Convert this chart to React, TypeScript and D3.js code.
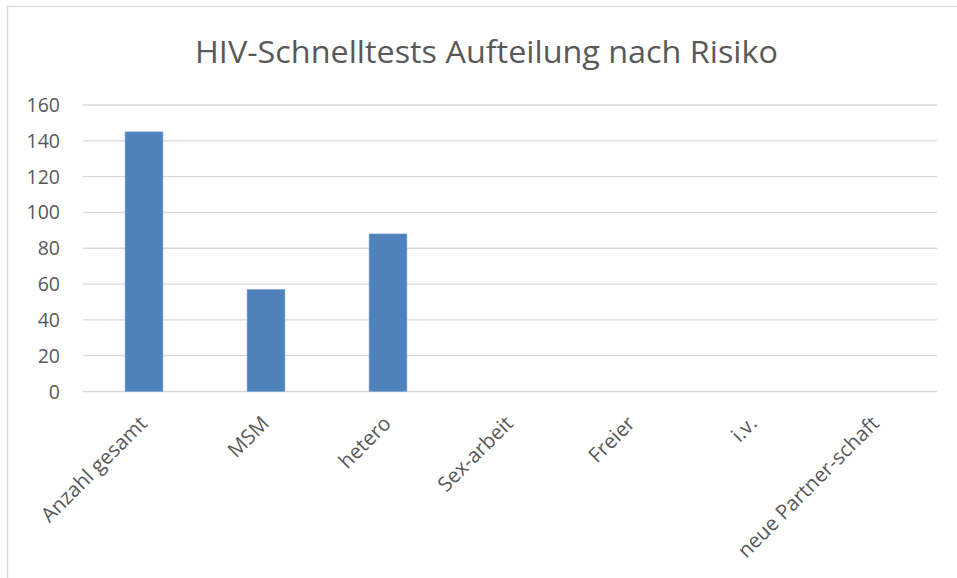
import React, { useRef, useEffect } from 'react';
import * as d3 from 'd3';

// categories and values
const categories = ['Anzahl gesamt', 'MSM', 'hetero', 'Sex-arbeit', 'Freier', 'i.v.', 'neue Partner-schaft'];
const values = [145, 57, 88, 0, 0, 0, 0];
const yTicks = [0, 20, 40, 60, 80, 100, 120, 140, 160];
const title = 'HIV-Schnelltests Aufteilung nach Risiko';

const App = () => {
  const svgRef = useRef<SVGSVGElement>(null);

  useEffect(() => {
    const width = 957;
    const height = 578;
    const margin = { top: 105, right: 20, bottom: 186, left: 83 };
    const innerWidth = 937 - margin.left;
    const innerHeight = 391.5 - margin.top;
    const font = '"Open Sans", sans-serif';

    const svg = d3.select(svgRef.current);
    svg.selectAll('*').remove();
    svg.attr('width', width).attr('height', height);

    svg.append('rect')
      .attr('width', width)
      .attr('height', height)
      .attr('fill', '#fff');

    // outer chart border (right and bottom fall outside the picture)
    svg.append('rect')
      .attr('x', 7.5)
      .attr('y', 6.5)
      .attr('width', 980)
      .attr('height', 600)
      .attr('fill', 'none')
      .attr('stroke', '#d9d9d9')
      .attr('stroke-width', 1.3);

    svg.append('text')
      .attr('x', 486.5)
      .attr('y', 63)
      .attr('text-anchor', 'middle')
      .attr('font-family', font)
      .attr('font-size', 31)
      .attr('fill', '#595959')
      .attr('textLength', 583)
      .attr('lengthAdjust', 'spacingAndGlyphs')
      .text(title);

    const x = d3.scaleBand()
      .domain(categories)
      .range([0, innerWidth])
      .paddingInner(0.69)
      .paddingOuter(0.345);

    const y = d3.scaleLinear()
      .domain([0, 160])
      .range([innerHeight, 0]);

    const chart = svg.append('g')
      .attr('transform', `translate(${margin.left},${margin.top})`);

    // gridlines
    chart.selectAll('.grid')
      .data(yTicks)
      .enter()
      .append('line')
      .attr('x1', 0)
      .attr('x2', innerWidth)
      .attr('y1', d => y(d))
      .attr('y2', d => y(d))
      .attr('stroke', '#d9d9d9')
      .attr('stroke-width', 1.3);

    // y tick labels
    chart.selectAll('.ylab')
      .data(yTicks)
      .enter()
      .append('text')
      .attr('x', -23)
      .attr('y', d => y(d))
      .attr('dy', '0.36em')
      .attr('text-anchor', 'end')
      .attr('font-family', font)
      .attr('font-size', 19.5)
      .attr('fill', '#595959')
      .text(d => d);

    // bars
    chart.selectAll('.bar')
      .data(values)
      .enter()
      .append('rect')
      .attr('x', (d, i) => x(categories[i]) as number)
      .attr('y', d => y(d))
      .attr('width', x.bandwidth())
      .attr('height', d => innerHeight - y(d))
      .attr('fill', '#4f81bd')
      .attr('stroke', '#7fa3d3')
      .attr('stroke-width', 0.6);

    // rotated category labels
    chart.selectAll('.xlab')
      .data(categories)
      .enter()
      .append('text')
      .attr('transform', d => `translate(${(x(d) as number) + x.bandwidth() / 2 - 6},${innerHeight + 23}) rotate(-45)`)
      .attr('dy', '0.71em')
      .attr('text-anchor', 'end')
      .attr('font-family', font)
      .attr('font-size', 20.5)
      .attr('fill', '#595959')
      .text(d => d);
  }, []);

  return <svg ref={svgRef} style={{ position: 'absolute', left: 0, top: 0 }} />;
};

export default App;
